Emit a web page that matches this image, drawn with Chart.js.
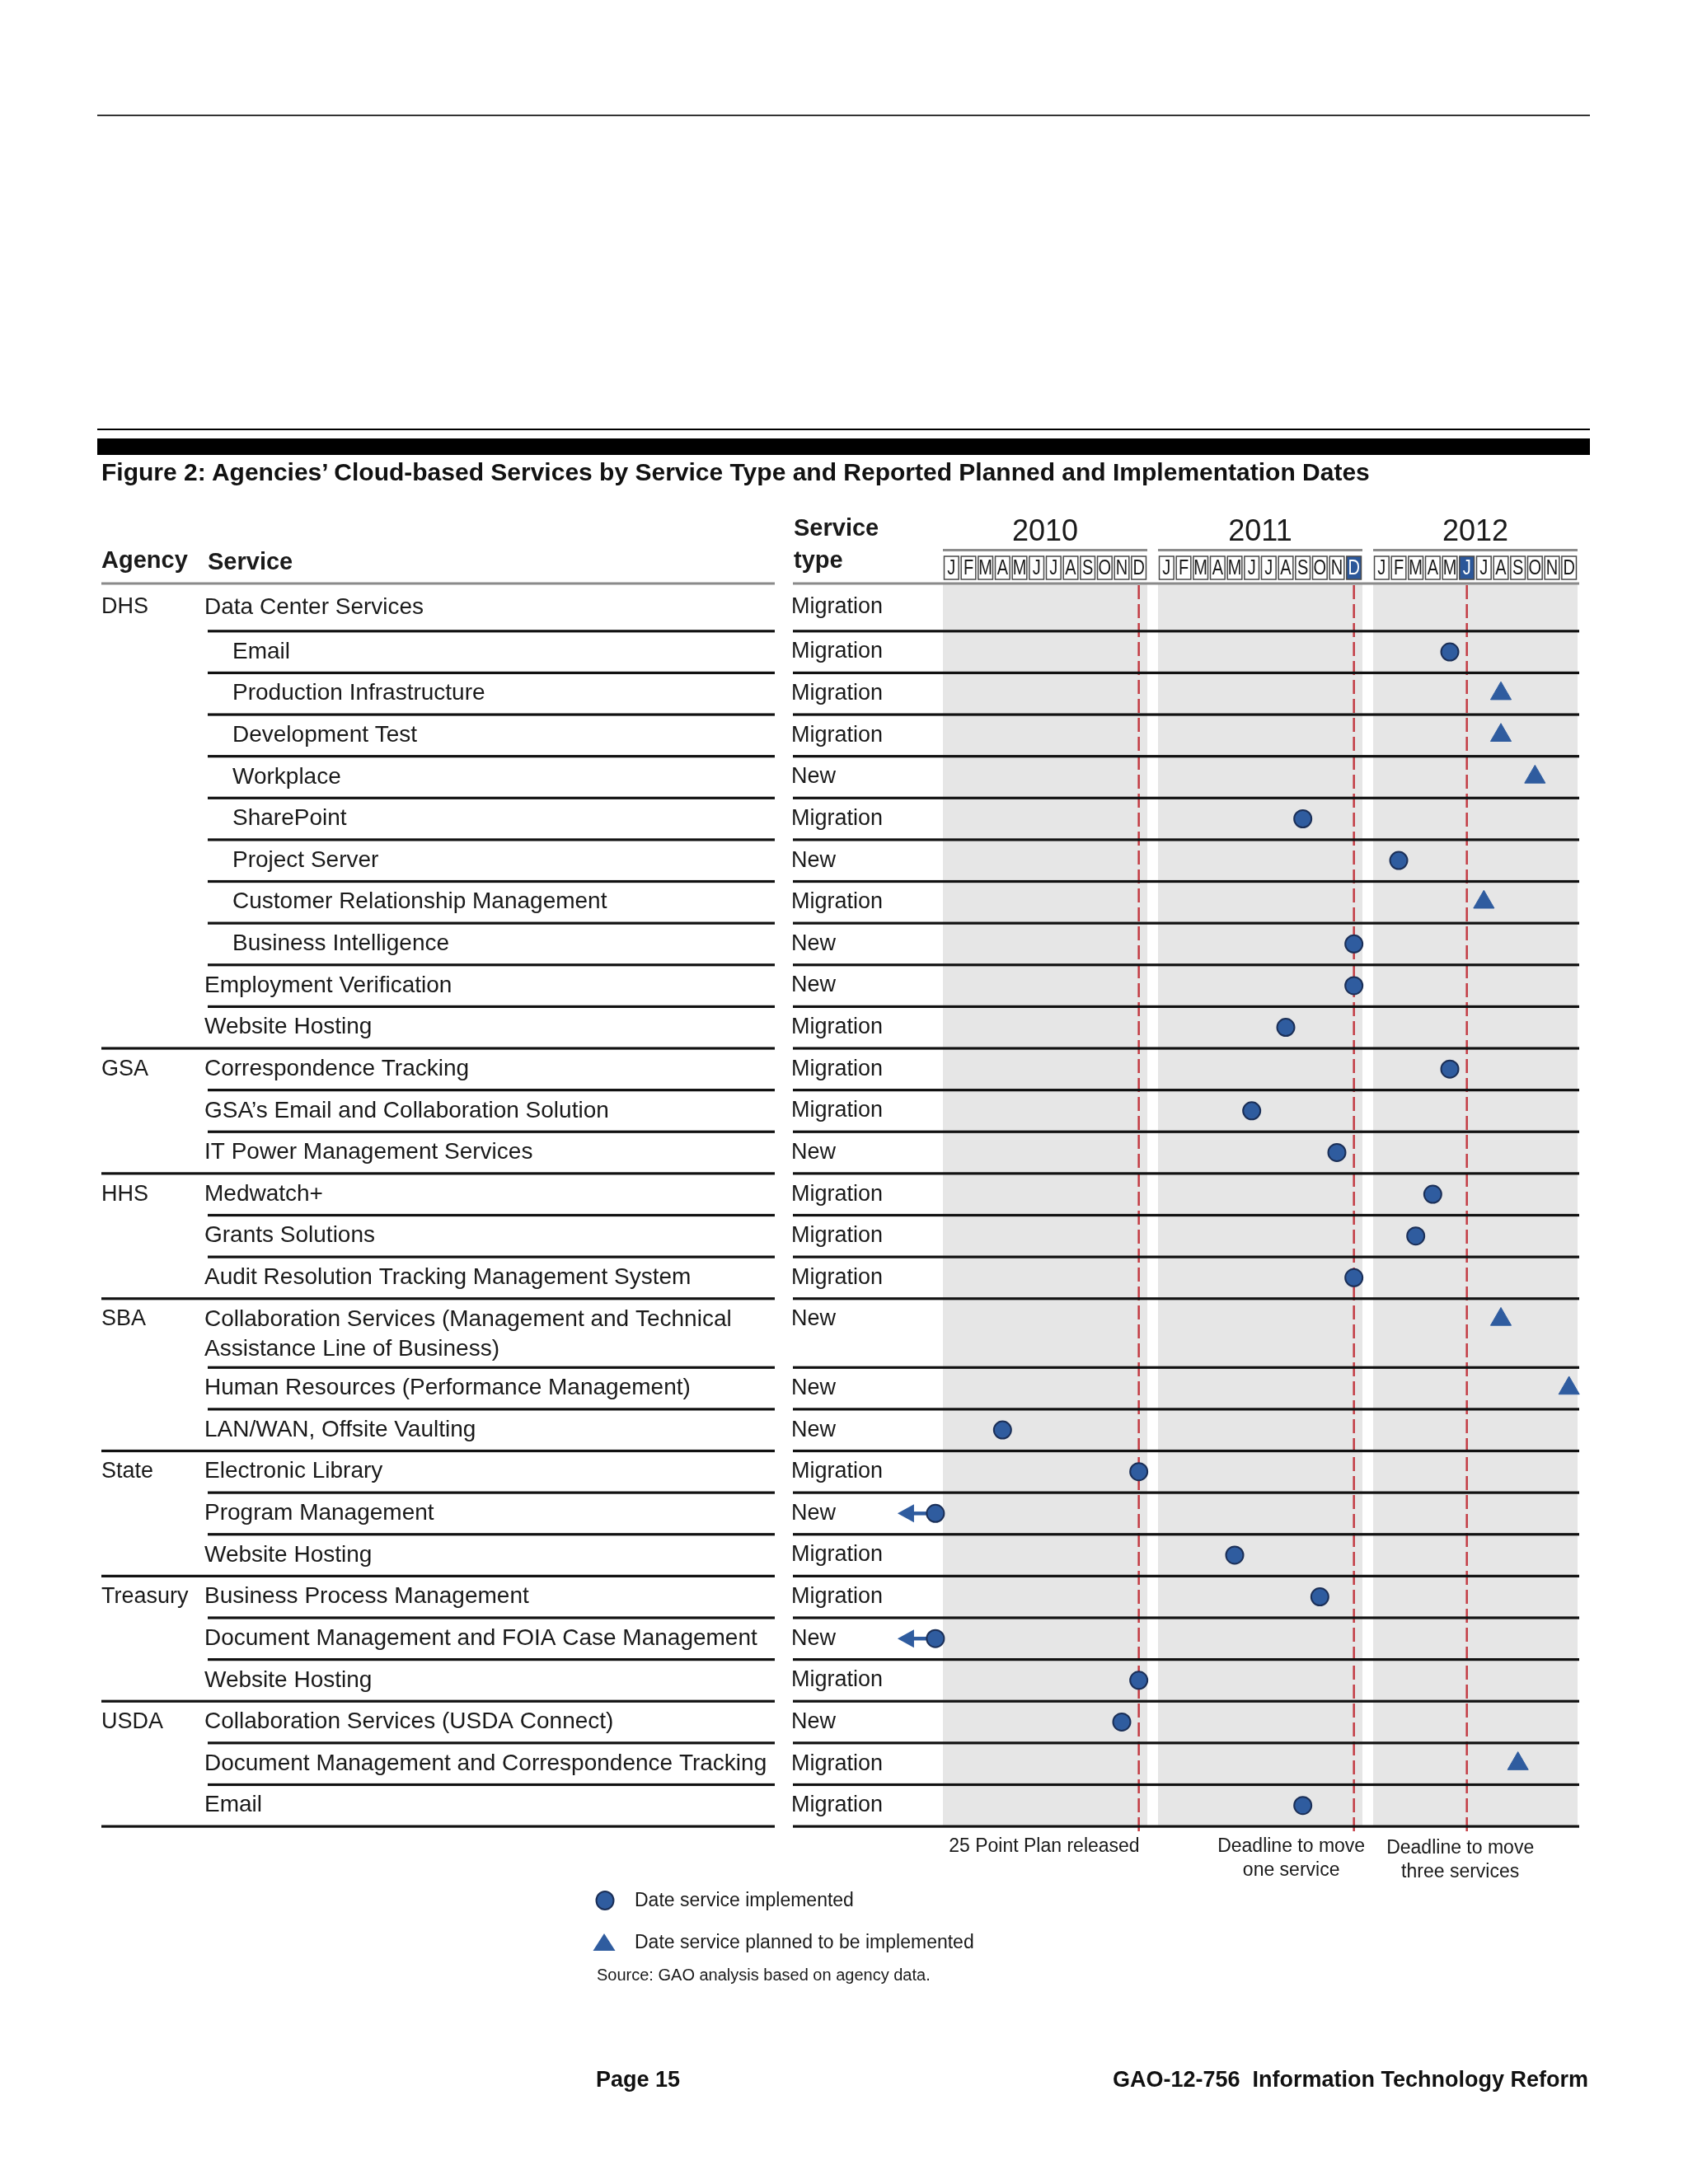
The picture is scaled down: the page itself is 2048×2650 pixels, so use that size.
<!DOCTYPE html>
<html>
<head>
<meta charset="utf-8">
<script src="https://cdn.jsdelivr.net/npm/chart.js@4.4.1/dist/chart.umd.min.js"></script>
<style>
  body { margin: 0; background: #fff; width: 2048px; height: 2650px; position: relative; overflow: hidden;
         font-family: "Liberation Sans", Arial, Helvetica, sans-serif; color: #111; }
  #c { position: absolute; left: 0; top: 0; }
  .rule { position: absolute; left: 118px; width: 1811px; background: #000; }
  #title { position: absolute; left: 123px; top: 556px; font-weight: bold; font-size: 30px; line-height: 34px; white-space: nowrap; }
  .foot { position: absolute; top: 2508px; font-weight: bold; font-size: 27px; line-height: 30px; white-space: pre; }
</style>
</head>
<body>
<canvas id="c" width="2048" height="2650"></canvas>
<div class="rule" style="top:139px;height:2px;background:#333"></div>
<div class="rule" style="top:520px;height:2px"></div>
<div class="rule" style="top:532px;height:20px"></div>
<div id="title">Figure 2: Agencies’ Cloud-based Services by Service Type and Reported Planned and Implementation Dates</div>
<div class="foot" style="left:723px">Page 15</div>
<div class="foot" style="right:121px">GAO-12-756  Information Technology Reform</div>
<script>
// --- data ---
const years = [2010, 2011, 2012];
const monthLetters = ['J','F','M','A','M','J','J','A','S','O','N','D'];

const agencies = ['DHS','DHS','DHS','DHS','DHS','DHS','DHS','DHS','DHS','DHS','DHS',
                  'GSA','GSA','GSA','HHS','HHS','HHS','SBA','SBA','SBA',
                  'State','State','State','Treasury','Treasury','Treasury','USDA','USDA','USDA'];
const services = [
  'Data Center Services', 'Email', 'Production Infrastructure', 'Development Test', 'Workplace',
  'SharePoint', 'Project Server', 'Customer Relationship Management', 'Business Intelligence',
  'Employment Verification', 'Website Hosting',
  'Correspondence Tracking', 'GSA’s Email and Collaboration Solution', 'IT Power Management Services',
  'Medwatch+', 'Grants Solutions', 'Audit Resolution Tracking Management System',
  'Collaboration Services (Management and Technical\nAssistance Line of Business)',
  'Human Resources (Performance Management)', 'LAN/WAN, Offsite Vaulting',
  'Electronic Library', 'Program Management', 'Website Hosting',
  'Business Process Management', 'Document Management and FOIA Case Management', 'Website Hosting',
  'Collaboration Services (USDA Connect)', 'Document Management and Correspondence Tracking', 'Email'
];
// sub-services of DHS Data Center Services
const subService = [0,1,1,1,1,1,1,1,1,0,0, 0,0,0, 0,0,0, 0,0,0, 0,0,0, 0,0,0, 0,0,0];
const serviceTypes = ['Migration','Migration','Migration','Migration','New','Migration','New','Migration','New','New','Migration',
                      'Migration','Migration','New','Migration','Migration','Migration','New','New','New',
                      'Migration','New','Migration','Migration','New','Migration','New','Migration','Migration'];
// '<2010' = implemented before January 2010 (arrow)
const markerDates = ['', '2012-05','2012-08','2012-08','2012-10','2011-09','2012-02','2012-07','2011-12','2011-12','2011-08',
                     '2012-05','2011-06','2011-11','2012-04','2012-03','2011-12','2012-08','2012-12','2010-04',
                     '2010-12','<2010','2011-05','2011-10','<2010','2010-12','2010-11','2012-09','2011-09'];
const markerKinds = ['', 'done','planned','planned','planned','done','done','planned','done','done','done',
                     'done','done','done','done','done','done','planned','planned','done',
                     'done','done','done','done','done','done','done','planned','done'];

const milestoneDates = ['2010-12', '2011-12', '2012-06'];
const milestoneLabels = [['25 Point Plan released'], ['Deadline to move', 'one service'], ['Deadline to move', 'three services']];
const highlightMonths = ['2011-12', '2012-06'];
const legendLabels = ['Date service implemented', 'Date service planned to be implemented'];
const sourceNote = 'Source: GAO analysis based on agency data.';

// --- layout helpers ---
const FONT = '"Liberation Sans", Arial, Helvetica, sans-serif';
const BLUE = '#2f5c9f', NAVY = '#1b2f57', INK = '#1a1a1a';
const GAP = 0.63;                      // white gap between year panels, in months
const yearStart = k => k * (12 + GAP);

function monthX(ym) {
  if (ym === '<2010') return -0.44;
  const [yr, m] = ym.split('-').map(Number);
  return yearStart(yr - years[0]) + (m - 1) + 0.5;
}

// row heights in row units: wrapped labels get a taller row, first row has a little headroom
const rowLines = services.map(s => s.split('\n').length);
const rowHeight = rowLines.map((n, i) => 1 + (n - 1) * 0.65 + (i === 0 ? 0.14 : 0));
const rowTop = [];
rowHeight.reduce((acc, h, i) => { rowTop[i] = acc; return acc + h; }, 0);
const totalRows = rowTop[rowTop.length - 1] + rowHeight[rowHeight.length - 1];
const rowAnchor = i => rowTop[i] + (i === 0 ? 0.57 : 0.5);

const points = kind => markerKinds
  .map((k, i) => k === kind ? { x: monthX(markerDates[i]), y: rowAnchor(i) } : null)
  .filter(Boolean);

function text(ctx, str, x, y, size, opts = {}) {
  ctx.font = `${opts.bold ? 'bold ' : ''}${size}px ${FONT}`;
  ctx.fillStyle = opts.color || INK;
  ctx.textAlign = opts.align || 'left';
  ctx.textBaseline = 'middle';
  ctx.fillText(str, x, y);
}

const figurePlugin = {
  id: 'figure',
  beforeDatasetsDraw(chart) {
    const { ctx, chartArea: a, scales: { x, y } } = chart;
    ctx.save();

    // year panels, titles and month boxes
    years.forEach((yr, k) => {
      const x0 = x.getPixelForValue(yearStart(k)), x1 = x.getPixelForValue(yearStart(k) + 12);
      ctx.fillStyle = '#e6e6e6';
      ctx.fillRect(x0, a.top, x1 - x0, a.bottom - a.top);
      text(ctx, String(yr), (x0 + x1) / 2, a.top - 62, 36, { align: 'center' });
      ctx.fillStyle = '#8c8c8c';
      ctx.fillRect(x0, a.top - 42, x1 - x0, 3);
      monthLetters.forEach((ch, m) => {
        const b0 = x.getPixelForValue(yearStart(k) + m) + 1.5;
        const b1 = x.getPixelForValue(yearStart(k) + m + 1) - 1.5;
        const key = `${yr}-${String(m + 1).padStart(2, '0')}`;
        const hl = highlightMonths.includes(key);
        if (hl) { ctx.fillStyle = '#2c5799'; ctx.fillRect(b0, a.top - 33, b1 - b0, 28); }
        ctx.strokeStyle = '#4a4a4a'; ctx.lineWidth = 1.5;
        ctx.strokeRect(b0, a.top - 33, b1 - b0, 28);
        ctx.save();
        ctx.translate((b0 + b1) / 2, a.top - 18);
        ctx.scale(0.8, 1);
        text(ctx, ch, 0, 0, 25, { align: 'center', color: hl ? '#fff' : INK });
        ctx.restore();
      });
    });

    // header
    text(ctx, 'Agency', 123, a.top - 27, 29, { bold: true });
    text(ctx, 'Service', 252, a.top - 25, 29, { bold: true });
    text(ctx, 'Service', 963, a.top - 66, 29, { bold: true });
    text(ctx, 'type', 963, a.top - 27, 29, { bold: true });
    ctx.fillStyle = '#8a8a8a';
    ctx.fillRect(123, a.top - 1.5, 940 - 123, 3);
    ctx.fillRect(962, a.top - 1.5, a.right + 2 - 962, 3);

    // milestone dashed lines
    ctx.strokeStyle = '#c33b43'; ctx.lineWidth = 2.5; ctx.setLineDash([17, 6]);
    milestoneDates.forEach(d => {
      const px = x.getPixelForValue(monthX(d));
      ctx.beginPath(); ctx.moveTo(px, a.top + 2); ctx.lineTo(px, a.bottom + 9); ctx.stroke();
    });
    ctx.setLineDash([]);

    // rows: text + rules
    services.forEach((s, i) => {
      const yMid = y.getPixelForValue(rowAnchor(i));
      if (i === 0 || agencies[i - 1] !== agencies[i]) text(ctx, agencies[i], 123, yMid, 27);
      s.split('\n').forEach((line, j) => text(ctx, line, subService[i] ? 282 : 248, yMid + j * 36, 28));
      text(ctx, serviceTypes[i], 960, yMid, 27);
      const yb = y.getPixelForValue(rowTop[i] + rowHeight[i]);
      const lastOfAgency = i === services.length - 1 || agencies[i + 1] !== agencies[i];
      ctx.fillStyle = '#111';
      ctx.fillRect(lastOfAgency ? 123 : 252, yb - 1.5, 940 - (lastOfAgency ? 123 : 252), 3.2);
      ctx.fillRect(962, yb - 1.5, a.right + 2 - 962, 3.2);

      // "earlier than 2010" arrows
      if (markerDates[i] === '<2010') {
        const cx = x.getPixelForValue(monthX(markerDates[i]));
        ctx.strokeStyle = BLUE; ctx.fillStyle = BLUE; ctx.lineWidth = 4.5;
        ctx.beginPath(); ctx.moveTo(cx - 6, yMid); ctx.lineTo(cx - 32, yMid); ctx.stroke();
        ctx.beginPath(); ctx.moveTo(cx - 46, yMid); ctx.lineTo(cx - 26, yMid - 11); ctx.lineTo(cx - 26, yMid + 11); ctx.closePath(); ctx.fill();
      }
    });

    // milestone captions
    const cap = [{ align: 'right', dx: 1, dy: 25 }, { align: 'center', dx: -76, dy: 25 }, { align: 'center', dx: -8, dy: 27 }];
    milestoneLabels.forEach((lines, k) => {
      const px = x.getPixelForValue(monthX(milestoneDates[k]));
      lines.forEach((l, j) => text(ctx, l, px + cap[k].dx, a.bottom + cap[k].dy + j * 28.5, 23, { align: cap[k].align }));
    });

    // legend + source
    ctx.fillStyle = BLUE; ctx.strokeStyle = NAVY; ctx.lineWidth = 2;
    ctx.beginPath(); ctx.ellipse(734, 2306, 10.5, 11, 0, 0, Math.PI * 2); ctx.fill(); ctx.stroke();
    ctx.beginPath(); ctx.moveTo(733, 2346); ctx.lineTo(746.5, 2367); ctx.lineTo(719.5, 2367); ctx.closePath(); ctx.fill();
    text(ctx, legendLabels[0], 770, 2307, 23);
    text(ctx, legendLabels[1], 770, 2358, 23);
    text(ctx, sourceNote, 724, 2397, 20);

    ctx.restore();
  }
};

new Chart(document.getElementById('c'), {
  type: 'scatter',
  data: {
    datasets: [
      { label: legendLabels[0], data: points('done'), pointStyle: 'circle', pointRadius: 10.5,
        backgroundColor: BLUE, borderColor: NAVY, borderWidth: 2, clip: false },
      { label: legendLabels[1], data: points('planned'), pointStyle: 'triangle', pointRadius: 14.5,
        backgroundColor: BLUE, borderColor: BLUE, borderWidth: 1, clip: false }
    ]
  },
  options: {
    responsive: false,
    animation: false,
    layout: { padding: { left: 1144, right: 134, top: 708, bottom: 434 } },
    plugins: { legend: { display: false }, tooltip: { enabled: false } },
    scales: {
      x: { type: 'linear', display: false, min: 0, max: yearStart(years.length - 1) + 12 },
      y: { type: 'linear', display: false, reverse: true, min: 0, max: totalRows }
    }
  },
  plugins: [figurePlugin]
});
</script>
</body>
</html>
